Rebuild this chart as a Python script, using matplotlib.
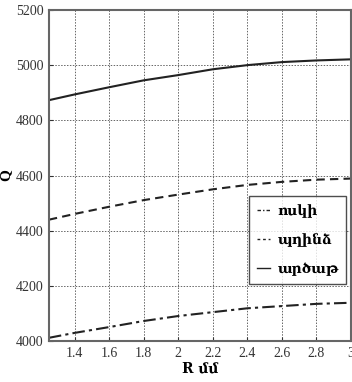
import matplotlib
matplotlib.use("Agg")
import matplotlib.pyplot as plt
from matplotlib.lines import Line2D

R = [1.25, 1.4, 1.6, 1.8, 2.0, 2.2, 2.4, 2.6, 2.8, 3.0]
gold = [4012, 4030, 4051, 4073, 4091, 4105, 4119, 4127, 4135, 4139]
copper = [4440, 4461, 4487, 4511, 4531, 4550, 4566, 4577, 4585, 4589]
silver = [4873, 4894, 4920, 4945, 4964, 4985, 5000, 5011, 5017, 5021]
labels = ["ոսկի", "պղինձ", "արծաթ"]
xticks = [1.4, 1.6, 1.8, 2.0, 2.2, 2.4, 2.6, 2.8, 3.0]
xticklabels = ["1.4", "1.6", "1.8", "2", "2.2", "2.4", "2.6", "2.8", "3"]
yticks = [4000, 4200, 4400, 4600, 4800, 5000, 5200]

fig = plt.figure(figsize=(3.52, 3.82), dpi=100)
ax = fig.add_axes([0.139, 0.107, 0.858, 0.867])

ax.plot(R, gold, color="#222222", lw=1.5, linestyle=(0, (6, 2, 1.5, 2)))
ax.plot(R, copper, color="#222222", lw=1.5, linestyle=(0, (4, 2.5)))
ax.plot(R, silver, color="#222222", lw=1.5, linestyle="-")

ax.set_xlim(1.25, 3.0)
ax.set_ylim(4000, 5200)
ax.set_xticks(xticks)
ax.set_xticklabels(xticklabels)
ax.set_yticks(yticks)
ax.grid(True, color="#666666", linestyle=(0, (1.5, 1.5)), lw=0.7)
ax.tick_params(direction="in", length=3, labelsize=10, colors="#333333", pad=4)
for lab in ax.get_xticklabels() + ax.get_yticklabels():
    lab.set_family("Liberation Serif")
for s in ax.spines.values():
    s.set_color("#666666")
    s.set_linewidth(1.5)

ax.set_ylabel("Q", family="Liberation Serif", fontsize=11, fontweight="bold", labelpad=2)
ax.set_xlabel("R մմ", family=["DejaVu Serif", "Liberation Serif"], fontsize=10, fontweight="bold", labelpad=1)

handles = [
    Line2D([], [], color="#222222", lw=1.0, linestyle=(0, (2.5, 1.5, 1, 1.5))),
    Line2D([], [], color="#222222", lw=1.0, linestyle=(0, (2, 2))),
    Line2D([], [], color="#222222", lw=1.0, linestyle="-"),
]
leg = ax.legend(handles, labels, loc="upper left", bbox_to_anchor=(0.662, 0.438), frameon=True,
                fancybox=False, edgecolor="#222222", handlelength=1.0, handletextpad=0.5,
                labelspacing=1.1, prop={"family": ["DejaVu Serif"], "weight": "bold", "size": 10},
                borderpad=0.55, borderaxespad=0)
leg.get_frame().set_linewidth(1.0)

fig.savefig("out.png", dpi=100, facecolor="white")
